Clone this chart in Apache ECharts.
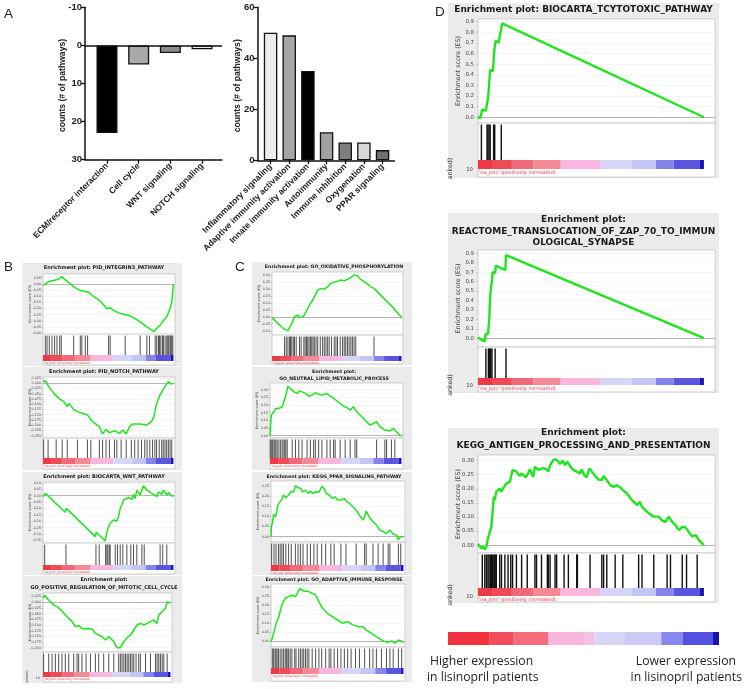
<!DOCTYPE html>
<html><head><meta charset="utf-8">
<script src="https://cdn.jsdelivr.net/npm/echarts@6/dist/echarts.min.js"></script>
<style>html,body{margin:0;padding:0;background:#fff}#c{width:750px;height:689px}</style>
</head><body><div id="c"></div>
<script>
// ---------- Panel A data ----------
const downCategories = ['ECM/receptor interaction', 'Cell cycle', 'WNT signaling', 'NOTCH signaling'];
const downCounts = [23, 5, 2, 1];
const downTicks = [-10, 0, 10, 20, 30];
const upCategories = ['Inflammatory signaling', 'Adaptive immunity activation', 'Innate immunity activation', 'Autoimmunity', 'Immune inhibition', 'Oxygenation', 'PPAR signaling'];
const upCounts = [50, 49, 35, 11, 7, 7, 4];
const upTicks = [0, 20, 40, 60];

// ---------- ranked list colour bands (percent of ranked list) ----------
const rankBounds = [0, 6.2, 15, 24.6, 36.6, 54, 68, 78.7, 86.6, 98, 100];
const legendBounds = [0, 15.4, 24, 36.9, 50.2, 54.1, 65, 78.7, 86.7, 97.8, 100];

// ---------- enrichment curves: [rank %, ES] ----------
const esIntegrin3 = [[0,-0.013],[1.8,0],[4.3,0.019],[8.2,0.027],[12,0.04],[14.5,0.059],[17.1,0.032],[20.9,0],[24.7,-0.032],[28.6,-0.053],[32.4,-0.062],[34.9,-0.067],[38.8,-0.102],[43.9,-0.139],[49,-0.201],[51.5,-0.193],[54.1,-0.214],[57.9,-0.235],[61.7,-0.246],[65.6,-0.254],[69.4,-0.273],[74.5,-0.308],[79.6,-0.348],[83.4,-0.374],[85.2,-0.387],[87.2,-0.361],[89.8,-0.334],[92.3,-0.299],[94.9,-0.267],[97.4,-0.201],[98.7,-0.147],[100,0]];
const esNotch = [[0,0.008],[1.8,0.013],[4.4,-0.016],[8.3,-0.048],[12.1,-0.072],[16,-0.088],[18.6,-0.111],[19.9,-0.096],[21.2,-0.103],[23.8,-0.127],[26.4,-0.135],[30.2,-0.143],[34.1,-0.151],[38,-0.183],[43.2,-0.207],[45.7,-0.242],[48.3,-0.22],[50.9,-0.236],[54.8,-0.226],[58.7,-0.239],[61.2,-0.223],[63.8,-0.242],[66.4,-0.207],[69,-0.194],[74.2,-0.194],[79.3,-0.199],[83.2,-0.183],[85,-0.159],[87.1,-0.096],[89.7,-0.056],[93.5,-0.016],[96.1,0.008],[97.9,-0.003],[100,0]];
const esWnt = [[0,-0.008],[1.8,0.018],[17.1,-0.13],[17.9,-0.099],[40.1,-0.32],[40.8,-0.286],[47.7,-0.354],[49,-0.281],[50.3,-0.242],[51.5,-0.216],[54.1,-0.19],[55.4,-0.182],[56.6,-0.198],[57.9,-0.164],[59.2,-0.099],[60.5,-0.073],[61.7,-0.034],[63,-0.047],[65.6,-0.016],[68.1,-0.029],[69.4,0.01],[70.7,-0.021],[71.9,0.044],[74.5,0.005],[77,0.078],[79.6,0.044],[84.7,0.01],[87.2,-0.008],[88.5,0.031],[91.1,0.01],[92.3,0.044],[94.9,0.005],[96.2,0.026],[98.7,0],[100,-0.008]];
const esMitotic = [[0,0.018],[1.3,0.032],[3.1,0.018],[5.8,0.003],[8.4,-0.012],[11,-0.019],[12.3,-0.012],[14.9,-0.038],[17.5,-0.056],[20.2,-0.071],[22.8,-0.085],[25.4,-0.107],[28,-0.103],[30.6,-0.115],[33.2,-0.118],[34.6,-0.126],[35.9,-0.115],[38.5,-0.118],[41.1,-0.137],[43.7,-0.144],[46.3,-0.151],[49,-0.166],[51.6,-0.151],[55.5,-0.173],[58.1,-0.2],[60.7,-0.2],[63.4,-0.173],[66,-0.156],[68.6,-0.144],[71.2,-0.122],[73.8,-0.1],[76.4,-0.093],[79.1,-0.1],[81.7,-0.093],[84.3,-0.085],[86.9,-0.078],[89.5,-0.093],[90.8,-0.056],[93.5,-0.041],[96.1,-0.026],[97.4,0.003],[98.7,0.01],[100,-0.004]];
const esOxphos = [[0,0],[3.3,-0.031],[7.2,-0.067],[9.7,-0.086],[12.3,-0.095],[13.6,-0.086],[16.1,-0.031],[17.4,0.005],[19.9,0.017],[21.2,0],[23.8,0],[26.3,0.04],[28.9,0.088],[31.5,0.124],[32.7,0.148],[35.3,0.195],[37.9,0.207],[40.4,0.2],[43,0.219],[45.5,0.243],[46.8,0.238],[49.4,0.255],[50.6,0.248],[53.2,0.267],[55.8,0.262],[58.3,0.271],[60.9,0.286],[63.4,0.302],[66,0.298],[68.5,0.271],[72.4,0.248],[76.2,0.219],[78.8,0.207],[83.9,0.159],[89,0.112],[94.1,0.064],[100,0]];
const esLipid = [[0,0],[0.3,0.048],[1,0.135],[3,0.156],[4.3,0.178],[5.5,0.167],[6.8,0.178],[8.1,0.184],[9.3,0.189],[10.6,0.2],[11.8,0.254],[13.6,0.323],[15.6,0.308],[18.1,0.286],[20.7,0.276],[22.7,0.293],[24.4,0.286],[27,0.276],[29.5,0.258],[32,0.265],[34.5,0.28],[37,0.271],[39.5,0.265],[43.3,0.276],[45.8,0.258],[48.4,0.243],[50.9,0.228],[53.4,0.21],[55.9,0.193],[58.4,0.184],[61,0.167],[63.5,0.189],[66,0.156],[68.5,0.135],[72.3,0.102],[76.1,0.069],[81.1,0.091],[83.6,0.059],[87.4,0.037],[88.7,0.041],[91.2,0.03],[93.7,0.048],[96.2,0.026],[98.7,0.004],[100,0]];
const esPpar = [[0,0],[0.3,0.049],[1,0.066],[2,0.11],[3.6,0.099],[5.1,0.156],[6.9,0.173],[8.2,0.186],[9.4,0.206],[11.2,0.192],[13.3,0.206],[15.3,0.225],[17.1,0.219],[18.4,0.252],[20.4,0.242],[22.2,0.239],[24,0.222],[26,0.23],[28.1,0.214],[29.8,0.225],[31.6,0.214],[33.7,0.222],[36.2,0.219],[38.3,0.247],[40.1,0.239],[41.8,0.214],[43.9,0.206],[46.4,0.189],[48.5,0.197],[50.3,0.181],[52.8,0.181],[55.4,0.189],[57.1,0.173],[59.2,0.165],[61.7,0.148],[64.3,0.132],[66.8,0.107],[69.4,0.082],[70.7,0.099],[71.9,0.127],[74,0.099],[77,0.074],[79.6,0.058],[82.1,0.033],[84.7,0.025],[87.2,0.016],[89.8,0.033],[92.3,0.012],[94.9,0.008],[96.2,-0.016],[97.4,0],[98.7,0.008],[100,0]];
const esAdaptive = [[0,0],[1,0.019],[2.6,0.065],[4.3,0.111],[5.6,0.13],[6.9,0.167],[8.2,0.204],[9.4,0.222],[10.7,0.241],[13.3,0.25],[15.8,0.259],[18.4,0.25],[19.6,0.263],[20.9,0.268],[21.7,0.296],[23,0.287],[24.7,0.281],[28.6,0.278],[31.1,0.268],[33.7,0.259],[36.2,0.222],[38.8,0.185],[42.6,0.157],[46.4,0.139],[50.3,0.12],[54.1,0.102],[57.9,0.111],[61.7,0.093],[65.6,0.083],[69.4,0.083],[71.9,0.065],[75.8,0.046],[79.6,0.028],[83.4,0.009],[86,0],[88.5,-0.004],[91.1,0.004],[93.6,-0.009],[94.9,-0.015],[96.2,0.009],[98,0.004],[100,-0.006]];
const esTcytotoxic = [[0,0.005],[1,-0.01],[1.5,-0.015],[1.9,0.075],[3.5,0.06],[4.3,0.163],[4.7,0.24],[5,0.345],[5.4,0.445],[6.6,0.435],[7.2,0.63],[7.8,0.72],[9.1,0.7],[9.9,0.79],[10.3,0.805],[10.7,0.884],[100,0]];
const esZap70 = [[0,0.007],[2.9,-0.035],[3.4,0.046],[4.4,0.042],[4.7,0.124],[5,0.21],[5.4,0.45],[5.9,0.44],[6.2,0.62],[6.5,0.7],[7.6,0.69],[7.9,0.77],[12.1,0.72],[12.4,0.88],[100,0]];
const esAntigen = [[0,0.004],[1.5,-0.012],[2.2,-0.004],[3,-0.015],[3.7,-0.006],[4.4,0.024],[5.2,0.03],[5.9,0.065],[6.4,0.113],[7,0.172],[7.4,0.16],[8.1,0.19],[8.9,0.184],[9.6,0.201],[10.4,0.19],[11.1,0.201],[11.9,0.196],[12.6,0.219],[13.3,0.213],[14.1,0.225],[14.8,0.219],[15.3,0.267],[15.9,0.273],[17,0.261],[18.5,0.245],[19.3,0.255],[20,0.261],[21.2,0.241],[22.2,0.255],[23,0.269],[24.4,0.243],[25.2,0.278],[26.7,0.267],[27.4,0.261],[28.9,0.273],[30.4,0.269],[31.1,0.261],[31.9,0.284],[33.3,0.302],[34.5,0.305],[35.6,0.296],[36.3,0.288],[37.5,0.3],[38.5,0.284],[39.6,0.296],[40.7,0.281],[42.2,0.267],[43.7,0.261],[45.2,0.255],[45.9,0.269],[47,0.249],[48.1,0.241],[49.3,0.273],[50.4,0.261],[51.9,0.245],[53.3,0.233],[54.8,0.231],[55.6,0.245],[57,0.231],[58.5,0.213],[60,0.207],[61.5,0.213],[63,0.205],[64.4,0.193],[65.9,0.184],[68.1,0.16],[70.4,0.142],[71.6,0.154],[72.6,0.136],[74.1,0.124],[75.6,0.113],[77.8,0.101],[80,0.101],[81.5,0.087],[83,0.083],[84.4,0.101],[85.9,0.083],[87.4,0.071],[88.9,0.053],[90.4,0.065],[91.9,0.063],[93.3,0.047],[94.8,0.03],[96.3,0.036],[97.8,0.018],[100,0]];

// ---------- gene-set hit positions (rank %) ----------
const hitsIntegrin3 = [1.8,3.1,4.8,6.9,8.9,10.7,12.8,14,23.5,28.6,29.8,32.4,34.2,50.3,51.5,63,74.5,79.6,81.6,86,87.2,88.5,89.3,90.3,91.6,92.3,93.6,94.9,95.7,96.4,97.4,98,98.7,99.5];
const hitsNotch = [0.5,3.9,10.1,14.7,18.6,26.4,34.1,36.7,43.2,45.7,48.3,50.9,54.8,56.6,59.9,63.8,67.7,70.3,72.9,75.5,78,79.8,81.9,84,85.8,87.1,89.1,91,92.2,93.5,94.8,96.1,97.4,98.7];
const hitsWnt = [1.3,17.6,40.6,43.1,48,49,49.7,50.8,51.5,55.4,57.1,59.2,61.2,64.3,67.3,69.4,71.9,75.8,77.6,89.8,91.8,94.9];
const hitsMitotic = [0.5,4.5,7.1,9.7,12.3,14.9,17.5,20.2,24.1,26.7,28,30.6,33.8,37.2,41.1,43.7,47.6,51.6,55.5,59.4,60.7,62,63.4,64.7,66,67.3,68.6,69.9,71.2,73,75.1,76.4,80.4,84.3,88.2,89.5,90.8,92.1,93.5,94.8,97.4];
const hitsOxphos = [9.7,11,12.3,13.6,14.3,15.3,16.4,17.4,18.7,21.2,22.5,24.6,25.6,26.6,27.6,28.6,29.7,30.7,31.7,32.7,34,35.3,37.3,39.1,40.4,41.7,43,44.2,46,48.1,49.4,50.6,52.7,54.5,55.8,57,58.3,59.6,60.9,62.1,63.4,64.7,78.8];
const hitsLipid = [0.2,1,2,3,3.8,4.5,5.5,6.8,8.1,9.3,10.6,11.3,12.1,13.1,16.9,19.4,21.9,24.4,28.2,30.7,33.2,34.5,37,39.5,43.3,45.8,48.4,49.6,53.4,57.2,61,64.7,66,81.1,87.4,88.7,92.4,95];
const hitsPpar = [0.5,2.3,3.8,5.6,6.9,8.2,9.4,11.2,13.3,15.3,18.4,20.4,22.2,24.2,27.3,29.8,32.4,34.9,38.3,41.3,45.2,47.7,52.8,56.6,64.3,70.7,71.9,77,80.9,84.7,88.5,89.8,96.2,98];
const hitsAdaptive = [1,2,3.1,3.8,4.6,5.6,6.9,8.2,9.4,10.7,11.5,12.2,13.3,14.5,15.8,17.9,18.9,20.9,22.2,23.5,24.7,26,27.3,28.6,31.1,33.7,36.2,38.3,41.3,43.9,45.2,47.7,50.3,52.8,55.4,57.9,60.5,63.8,66.8,70.7,74.5,77,79.6,83.4,87.2,89.8,92.3,96.2,98.7];
const hitsTcytotoxic = [1.5,4,4.4,4.9,5.4,6.9,7.4,10.3];
const hitsZap70 = [3.5,4.6,5,5.4,5.7,6.2,7.6,12.4];
const hitsAntigen = [1.9,3,3.7,4.4,4.9,5.5,5.9,6.4,7,7.4,7.9,8.1,9.6,10.4,11.9,13.3,14.5,15.3,17,19.3,21.8,25.2,25.9,28.1,30.7,31.1,31.9,34.1,34.8,38.1,40,43.7,44,49.6,54.8,55.6,57,60.7,64.1,71.1,72.6,77.8,83.7,85.2,90.4,92.3,97];

// ---------- ES tick labels ----------
const ticksIntegrin3 = [0.05,0,-0.05,-0.1,-0.15,-0.2,-0.25,-0.3,-0.35,-0.4];
const ticksNotch = [0.025,0,-0.025,-0.05,-0.075,-0.1,-0.125,-0.15,-0.175,-0.2,-0.225,-0.25];
const ticksWnt = [0.1,0.05,0,-0.05,-0.1,-0.15,-0.2,-0.25,-0.3,-0.35];
const ticksMitotic = [0.025,0,-0.025,-0.05,-0.075,-0.1,-0.125,-0.15,-0.175,-0.2];
const ticksOxphos = [0.3,0.25,0.2,0.15,0.1,0.05,0,-0.05,-0.1];
const ticksLipid = [0.3,0.25,0.2,0.15,0.1,0.05,0];
const ticksPpar = [0.25,0.2,0.15,0.1,0.05,0];
const ticksAdaptive = [0.3,0.25,0.2,0.15,0.1,0.05,0];
const ticksTcytotoxic = [0.9,0.8,0.7,0.6,0.5,0.4,0.3,0.2,0.1,0];
const ticksZap70 = [0.9,0.8,0.7,0.6,0.5,0.4,0.3,0.2,0.1,0];
const ticksAntigen = [0.3,0.25,0.2,0.15,0.1,0.05,0];

// ---------- styles ----------
const downColors = ['#000000', '#a9a9a9', '#8c8c8c', '#ebebeb'];
const upColors = ['#ececec', '#a6a6a6', '#000000', '#a1a1a1', '#7e7e7e', '#d8d8d8', '#6f6f6f'];
const rankColors = ['#ec3a46', '#ee4a58', '#f16878', '#f38a95', '#f7b7de', '#d6d5f7', '#c4c4f5', '#8584ec', '#5a55df', '#1b13b6'];
const legendColors = ['#f0333f', '#f04c5b', '#f46c7c', '#f8b6dc', '#f4c0e3', '#d8d6f6', '#cdcbf5', '#8987ed', '#5450df', '#1a12b0'];
const GREEN = '#1ee61e';

const grids = [], xAxes = [], yAxes = [], series = [], graphics = [];
const BARFONT = 'Liberation Sans', GFONT = 'DejaVu Sans';

function text(x, y, t, st, extra) {
  graphics.push(Object.assign({ type: 'text', x: x, y: y, z: 100, silent: true,
    style: Object.assign({ text: t, fill: '#222', fontFamily: GFONT, fontSize: 10, textAlign: 'left', textVerticalAlign: 'middle' }, st) }, extra || {}));
}

// ---------- Panel A bar charts ----------
function barPanel(cfg) {
  const gi = grids.length;
  const pos = cfg.cats.map((c, i) => i + 1);
  grids.push({ left: cfg.left, top: cfg.top, width: cfg.width, height: cfg.height });
  xAxes.push({ gridIndex: gi, type: 'value', min: cfg.xr[0], max: cfg.xr[1],
    axisLine: { show: true, onZero: false, lineStyle: { color: '#111', width: 1.5 } },
    axisTick: { show: true, customValues: pos, length: 4, lineStyle: { color: '#111', width: 1.3 } },
    axisLabel: { customValues: pos, rotate: 45, margin: 5, formatter: v => cfg.cats[Math.round(v) - 1],
      fontSize: 8.6, fontWeight: 'bold', fontFamily: BARFONT, color: '#222' },
    splitLine: { show: false } });
  yAxes.push({ gridIndex: gi, type: 'value', inverse: cfg.inverse, min: cfg.ticks[0], max: cfg.ticks[cfg.ticks.length - 1],
    interval: cfg.ticks[1] - cfg.ticks[0],
    axisLine: { show: true, lineStyle: { color: '#111', width: 1.5 } },
    axisTick: { show: true, length: 4, lineStyle: { color: '#111', width: 1.3 } },
    axisLabel: { fontSize: 9.5, fontWeight: 'bold', fontFamily: BARFONT, color: '#222', margin: 3 },
    splitLine: { show: false } });
  series.push({ type: 'bar', xAxisIndex: gi, yAxisIndex: gi, barWidth: cfg.barWidth,
    itemStyle: { borderColor: '#111', borderWidth: 1.3 },
    data: cfg.values.map((v, i) => ({ value: [i + 1, v], itemStyle: { color: cfg.colors[i] } })),
    markLine: cfg.zeroLine ? { silent: true, symbol: 'none', label: { show: false }, lineStyle: { color: '#111', width: 1.5, type: 'solid' }, data: [{ yAxis: 0 }] } : undefined });
  text(cfg.nameX, cfg.top + cfg.height / 2 + 2, 'counts (# of pathways)',
    { fontFamily: BARFONT, fontSize: 8.6, fontWeight: 'bold', textAlign: 'center' }, { rotation: Math.PI / 2 });
}
barPanel({ cats: downCategories, values: downCounts, ticks: downTicks, colors: downColors, inverse: true, zeroLine: true,
  left: 85, top: 7.3, width: 137, height: 152.4, xr: [0.306, 4.63], barWidth: 21, nameX: 63 });
barPanel({ cats: upCategories, values: upCounts, ticks: upTicks, colors: upColors, inverse: false, zeroLine: false,
  left: 257.5, top: 7.3, width: 137, height: 153, xr: [0.30, 7.64], barWidth: 13.5, nameX: 238 });

// ---------- GSEA plots ----------
const gseaPlots = [
  { curve: esIntegrin3, hits: hitsIntegrin3, ticks: ticksIntegrin3, dec: 2, titles: ['Enrichment plot: PID_INTEGRIN3_PATHWAY'], titleY: [268],
    box: [22, 263, 160, 103], es: [43, 274, 132, 60], low: [334, 355, 361, 365], yr: [-0.406, 0.08], big: false },
  { curve: esNotch, hits: hitsNotch, ticks: ticksNotch, dec: 3, titles: ['Enrichment plot: PID_NOTCH_PATHWAY'], titleY: [372],
    box: [22, 367, 160, 103], es: [43, 377, 132, 61], low: [438, 458, 464, 469], yr: [-0.261, 0.03], big: false },
  { curve: esWnt, hits: hitsWnt, ticks: ticksWnt, dec: 2, titles: ['Enrichment plot: BIOCARTA_WNT_PATHWAY'], titleY: [477],
    box: [22, 472, 160, 103], es: [43, 482, 132, 61], low: [543, 565, 570, 574], yr: [-0.37, 0.107], big: false },
  { curve: esMitotic, hits: hitsMitotic, ticks: ticksMitotic, dec: 3, titles: ['Enrichment plot:', 'GO_POSITIVE_REGULATION_OF_MITOTIC_CELL_CYCLE'], titleY: [580, 588],
    box: [22, 576, 160, 107], es: [43, 593, 129, 59], low: [652, 672, 677, 682], yr: [-0.219, 0.041], big: false, ranked: true },
  { curve: esOxphos, hits: hitsOxphos, ticks: ticksOxphos, dec: 2, titles: ['Enrichment plot: GO_OXIDATIVE_PHOSPHORYLATION'], titleY: [267],
    box: [252, 262, 160, 103], es: [272, 272, 131, 63], low: [335, 356, 361, 364], yr: [-0.126, 0.324], big: false },
  { curve: esLipid, hits: hitsLipid, ticks: ticksLipid, dec: 2, titles: ['Enrichment plot:', 'GO_NEUTRAL_LIPID_METABOLIC_PROCESS'], titleY: [372, 378.5],
    box: [252, 367, 160, 103], es: [270, 383, 133, 55], low: [438, 458, 464, 469], yr: [-0.015, 0.344], big: false },
  { curve: esPpar, hits: hitsPpar, ticks: ticksPpar, dec: 2, titles: ['Enrichment plot: KEGG_PPAR_SIGNALING_PATHWAY'], titleY: [477],
    box: [252, 472, 160, 103], es: [271, 481, 134, 61], low: [542, 565, 571, 574], yr: [-0.026, 0.275], big: false },
  { curve: esAdaptive, hits: hitsAdaptive, ticks: ticksAdaptive, dec: 2, titles: ['Enrichment plot: GO_ADAPTIVE_IMMUNE_RESPONSE'], titleY: [580],
    box: [252, 576, 160, 106], es: [271, 584, 134, 63], low: [647, 668, 674, 681], yr: [-0.03, 0.32], big: false },
  { curve: esTcytotoxic, hits: hitsTcytotoxic, ticks: ticksTcytotoxic, dec: 1, titles: ['Enrichment plot: BIOCARTA_TCYTOTOXIC_PATHWAY'], titleY: [10],
    box: [448, 3, 271, 175], es: [478, 19, 237, 104], low: [123, 160, 169, 177], yr: [-0.054, 0.925], big: true, ranked: true },
  { curve: esZap70, hits: hitsZap70, ticks: ticksZap70, dec: 1, titles: ['Enrichment plot:', 'REACTOME_TRANSLOCATION_OF_ZAP_70_TO_IMMUN', 'OLOGICAL_SYNAPSE'], titleY: [220, 231.5, 243],
    box: [448, 213, 271, 180], es: [478, 250, 237, 97], low: [347, 378, 385, 392], yr: [-0.093, 0.935], big: true, ranked: true },
  { curve: esAntigen, hits: hitsAntigen, ticks: ticksAntigen, dec: 2, titles: ['Enrichment plot:', 'KEGG_ANTIGEN_PROCESSING_AND_PRESENTATION'], titleY: [433, 446],
    box: [448, 428, 271, 175], es: [478, 455, 237, 98], low: [553, 588, 596, 602], yr: [-0.028, 0.32], big: true, ranked: true }
];

function gsea(P) {
  const big = P.big;
  const xMax = big ? 104.9 : 101.2;
  const S = big ? { tick: 5.4, lw: 2.4, hitW: 1.4, hitC: '#111111', name: 6.3, red: 5, title: 9, nameDx: 20, tickM: 4 }
                : { tick: 3.3, lw: 1.5, hitW: 0.9, hitC: '#3c3c3c', name: 3.4, red: 3, title: (P.box[0] > 200 ? 4.7 : 5), nameDx: 13, tickM: 2 };
  graphics.push({ type: 'rect', z: -1, silent: true, shape: { x: P.box[0], y: P.box[1], width: P.box[2], height: P.box[3] }, style: { fill: '#ebebeb' } });
  const cx = P.box[0] + P.box[2] / 2 + (big ? 0 : 2);
  P.titles.forEach((t, i) => text(cx, P.titleY[i], t, { fontSize: S.title, fontWeight: 'bold', textAlign: 'center', fill: '#1a1a1a' }));
  const g1 = grids.length;
  grids.push({ left: P.es[0], top: P.es[1], width: P.es[2], height: P.es[3], show: true, backgroundColor: '#fff', borderColor: '#c4c4c4', borderWidth: 0.8 });
  xAxes.push({ gridIndex: g1, type: 'value', min: 0, max: xMax, axisLine: { show: false }, axisTick: { show: false }, axisLabel: { show: false }, splitLine: { show: false } });
  yAxes.push({ gridIndex: g1, type: 'value', min: P.yr[0], max: P.yr[1], axisLine: { show: false },
    axisTick: { show: true, customValues: P.ticks, length: 1.5, lineStyle: { color: '#999', width: 0.5 } },
    axisLabel: { customValues: P.ticks, formatter: v => v.toFixed(P.dec), fontSize: S.tick, fontFamily: GFONT, color: '#444', margin: S.tickM },
    splitLine: { show: true, lineStyle: { color: '#efefef', width: 0.6 } } });
  series.push({ type: 'line', xAxisIndex: g1, yAxisIndex: g1, data: P.curve, symbol: 'none', showSymbol: false, z: 5,
    lineStyle: { color: GREEN, width: S.lw },
    markLine: { silent: true, symbol: 'none', label: { show: false }, lineStyle: { color: '#9a9a9a', width: 0.7, type: 'solid' }, data: [{ yAxis: 0 }] } });
  text(P.es[0] - S.nameDx, P.es[1] + P.es[3] / 2, 'Enrichment score (ES)', { fontSize: S.name, textAlign: 'center', fill: '#444' }, { rotation: Math.PI / 2 });
  const g2 = grids.length;
  const H = P.low[3] - P.low[0];
  const cbTop = (P.low[3] - P.low[1]) / H, cbBot = (P.low[3] - P.low[2]) / H, hitTop = (H - 1.5) / H;
  grids.push({ left: P.es[0], top: P.low[0], width: P.es[2], height: H, show: true, backgroundColor: '#fff', borderColor: '#c4c4c4', borderWidth: 0.8 });
  xAxes.push({ gridIndex: g2, type: 'value', min: 0, max: xMax, show: false });
  yAxes.push({ gridIndex: g2, type: 'value', min: 0, max: 1, show: false });
  series.push({ type: 'custom', xAxisIndex: g2, yAxisIndex: g2, z: 4, silent: true,
    data: P.hits.map(h => [h, 0.5]),
    renderItem: (p, api) => { const a = api.coord([api.value(0), cbTop]); const b = api.coord([api.value(0), hitTop]);
      return { type: 'line', shape: { x1: a[0], y1: a[1], x2: b[0], y2: b[1] }, style: { stroke: S.hitC, lineWidth: S.hitW } }; } });
  series.push({ type: 'custom', xAxisIndex: g2, yAxisIndex: g2, z: 4, silent: true,
    data: rankColors.map((c, i) => [rankBounds[i], rankBounds[i + 1], i]),
    renderItem: (p, api) => { const a = api.coord([api.value(0), cbTop]); const b = api.coord([api.value(1), cbBot]);
      return { type: 'rect', shape: { x: a[0], y: a[1], width: b[0] - a[0], height: b[1] - a[1] }, style: { fill: rankColors[api.value(2)] } }; } });
  text(P.es[0] + 1, P.low[2] + (big ? 4 : 2.5), "'na_pos' (positively correlated)", { fontSize: S.red, fill: '#ee3344' });
  if (P.ranked) {
    text(P.es[0] - (big ? 28 : 16), (P.low[1] + P.low[3]) / 2, big ? 'anked)' : '(anked)', { fontSize: S.name, textAlign: 'center', fill: '#444' }, { rotation: Math.PI / 2 });
    text(P.es[0] - (big ? 5 : 3), P.low[2] + 1, '10', { fontSize: S.tick, textAlign: 'right', fill: '#444' });
  }
}
gseaPlots.forEach(gsea);

// ---------- bottom legend colour bar ----------
(function () {
  const gi = grids.length;
  grids.push({ left: 448, top: 632, width: 271, height: 13 });
  xAxes.push({ gridIndex: gi, type: 'value', min: 0, max: 100, show: false });
  yAxes.push({ gridIndex: gi, type: 'value', min: 0, max: 1, show: false });
  series.push({ type: 'custom', xAxisIndex: gi, yAxisIndex: gi, silent: true,
    data: legendColors.map((c, i) => [legendBounds[i], legendBounds[i + 1], i]),
    renderItem: (p, api) => { const a = api.coord([api.value(0), 1]); const b = api.coord([api.value(1), 0]);
      return { type: 'rect', shape: { x: a[0], y: a[1], width: b[0] - a[0], height: b[1] - a[1] }, style: { fill: legendColors[api.value(2)] } }; } });
})();
const capFont = { fontFamily: 'Open Sans', fontSize: 12.2, fill: '#222' };
text(430, 662, 'Higher expression', capFont);
text(427, 677.5, 'in lisinopril patients', capFont);
text(736, 662, 'Lower expression', Object.assign({ textAlign: 'right' }, capFont));
text(742, 677.5, 'in lisinopril patients', Object.assign({ textAlign: 'right' }, capFont));

const letterFont = { fontFamily: 'Liberation Sans', fontSize: 13.5, fill: '#222' };
text(4, 14, 'A', letterFont);
text(4, 267, 'B', letterFont);
text(235, 267, 'C', letterFont);
text(435, 12, 'D', letterFont);

const chart = echarts.init(document.getElementById('c'), null, { renderer: 'canvas' });
chart.setOption({ animation: false, backgroundColor: '#fff', grid: grids, xAxis: xAxes, yAxis: yAxes, series: series, graphic: { elements: graphics } });
</script></body></html>
